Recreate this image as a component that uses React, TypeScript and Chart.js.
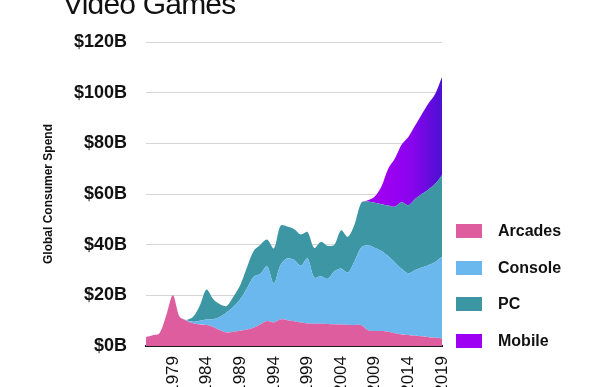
import React, { useEffect, useRef } from "react";
import { Chart, registerables } from "chart.js";

Chart.register(...registerables);

const years = [
  "1975", "1976", "1977", "1978", "1979", "1980", "1981", "1982", "1983", "1984",
  "1985", "1986", "1987", "1988", "1989", "1990", "1991", "1992", "1993", "1994",
  "1995", "1996", "1997", "1998", "1999", "2000", "2001", "2002", "2003", "2004",
  "2005", "2006", "2007", "2008", "2009", "2010", "2011", "2012", "2013", "2014",
  "2015", "2016", "2017", "2018", "2019",
];

const arcades = [
  3.5, 4.2, 5.0, 12, 20, 11.5, 10, 9, 8.5, 8.3,
  7.5, 6.2, 5.3, 5.6, 6.0, 6.5, 7.2, 8.5, 9.9, 9.3,
  10.5, 10.2, 9.8, 9.3, 8.9, 8.8, 8.8, 8.7, 8.6, 8.5,
  8.4, 8.3, 8.2, 6.2, 5.9, 5.9, 5.6, 5.0, 4.5, 4.3,
  4.0, 3.8, 3.5, 3.3, 3.0,
];

const consoleSpend = [
  0, 0, 0, 0, 0, 0, 0.2, 0.6, 1.5, 2.2,
  3.0, 5.3, 8.0, 9.9, 12.5, 16.2, 20.1, 20.0, 21.6, 15.4,
  21.5, 24.4, 24.2, 22.4, 25.7, 18.2, 18.7, 17.8, 20.9, 22.1,
  20.6, 25.2, 30.8, 33.6, 32.9, 31.6, 29.9, 28.0, 26.0, 24.4,
  26.0, 27.2, 28.5, 29.9, 32.2,
];

const pc = [
  0, 0, 0, 0, 0, 0, 0.1, 1.9, 6.0, 11.8,
  8.0, 5.0, 2.5, 4.0, 5.5, 8.3, 10.2, 11.5, 10.5, 13.8,
  15.5, 12.6, 12.2, 12.3, 10.4, 11.7, 13.6, 13.0, 10.5, 15.1,
  14.1, 14.5, 17.5, 17.2, 17.7, 18.5, 20.0, 22.0, 26.2, 26.8,
  28.0, 29.0, 29.8, 30.8, 32.2,
];

const mobile = [
  0, 0, 0, 0, 0, 0, 0, 0, 0, 0,
  0, 0, 0, 0, 0, 0, 0, 0, 0, 0,
  0, 0, 0, 0, 0, 0, 0, 0, 0, 0,
  0, 0, 0, 0.5, 2.5, 7.0, 14.5, 19.0, 22.8, 27.0,
  29.0, 31.5, 34.0, 35.6, 38.8,
];

const seriesNames = ["Arcades", "Console", "PC", "Mobile"];
const seriesColors = ["#DD5D9F", "#6BB8EE", "#3C96A4", "#9D00F2"];
const yTicks = [0, 20, 40, 60, 80, 100, 120];
const labelEvery = ["1979", "1984", "1989", "1994", "1999", "2004", "2009", "2014", "2019"];

const CANVAS_W = 600;
const CANVAS_H = 420;
const FONT = "'Liberation Sans', Arial, sans-serif";

export default function App() {
  const ref = useRef<HTMLCanvasElement | null>(null);

  useEffect(() => {
    if (!ref.current) return;
    const mobileFill = (ctx: any) => {
      const chart = ctx.chart;
      const area = chart.chartArea;
      if (!area) return seriesColors[3];
      const xs = chart.scales.x;
      const x0 = xs.getPixelForValue(years.indexOf("2010"));
      const g = chart.ctx.createLinearGradient(x0, 0, area.right, 0);
      g.addColorStop(0, "#A000F2");
      g.addColorStop(0.5, "#8A04EE");
      g.addColorStop(1, "#4C10D2");
      return g;
    };
    const data = [arcades, consoleSpend, pc, mobile];
    const chart = new Chart(ref.current, {
      type: "line",
      data: {
        labels: years,
        datasets: data.map((d, i) => ({
          label: seriesNames[i],
          data: d,
          backgroundColor: i === 3 ? mobileFill : seriesColors[i],
          borderWidth: 0,
          pointRadius: 0,
          fill: i === 0 ? "origin" : "-1",
          tension: 0.3,
        })),
      },
      options: {
        animation: false,
        responsive: false,
        devicePixelRatio: 1,
        layout: { padding: { top: 42, right: 158, bottom: 0, left: 0 } },
        plugins: {
          legend: { display: false },
          tooltip: { enabled: false },
          title: { display: false },
        },
        scales: {
          x: {
            type: "category",
            grid: { display: false, drawTicks: false },
            border: { display: true, color: "#1b1b1b", width: 2 },
            ticks: {
              autoSkip: false,
              maxRotation: 90,
              minRotation: 90,
              padding: 10,
              color: "#111",
              font: { family: FONT, size: 17 },
              callback: (_v: any, idx: number) =>
                labelEvery.includes(years[idx]) ? years[idx] : "",
            },
            afterFit: (s: any) => {
              s.height = CANVAS_H - 346;
            },
          },
          y: {
            stacked: true,
            min: yTicks[0],
            max: yTicks[yTicks.length - 1],
            grid: { color: "#d6d6d6", lineWidth: 1, drawTicks: false },
            border: { display: false },
            ticks: {
              stepSize: 20,
              padding: 19,
              color: "#111",
              font: { family: FONT, size: 18, weight: "bold" },
              callback: (v: any) => `$${v}B`,
            },
            title: {
              display: true,
              text: "Global Consumer Spend",
              color: "#111",
              font: { family: FONT, size: 12, weight: "bold" },
              padding: { top: 41, bottom: 0 },
            },
            afterFit: (s: any) => {
              s.width = 146;
            },
          },
        },
      },
    });
    return () => chart.destroy();
  }, []);

  return (
    <div
      style={{
        position: "fixed",
        left: 0,
        top: 0,
        width: 600,
        height: 387,
        overflow: "hidden",
        background: "#fff",
      }}
    >
      <canvas
        ref={ref}
        width={CANVAS_W}
        height={CANVAS_H}
        style={{ position: "absolute", left: 0, top: 0, width: CANVAS_W, height: CANVAS_H, display: "block" }}
      />
      <div
        style={{
          position: "absolute",
          left: 63,
          top: -11,
          fontFamily: FONT,
          fontSize: 30,
          lineHeight: "30px",
          letterSpacing: "-0.8px",
          color: "#111",
          whiteSpace: "nowrap",
        }}
      >
        Video Games
      </div>
      {seriesNames.map((name, i) => (
        <div
          key={name}
          style={{
            position: "absolute",
            left: 456,
            top: 221 + i * 36.7,
            height: 20,
            display: "flex",
            alignItems: "center",
            fontFamily: FONT,
            fontSize: 16,
            fontWeight: "bold",
            color: "#111",
            whiteSpace: "nowrap",
          }}
        >
          <span
            style={{
              display: "inline-block",
              width: 26,
              height: 14,
              background: seriesColors[i],
              marginRight: 16,
            }}
          />
          {name}
        </div>
      ))}
    </div>
  );
}
